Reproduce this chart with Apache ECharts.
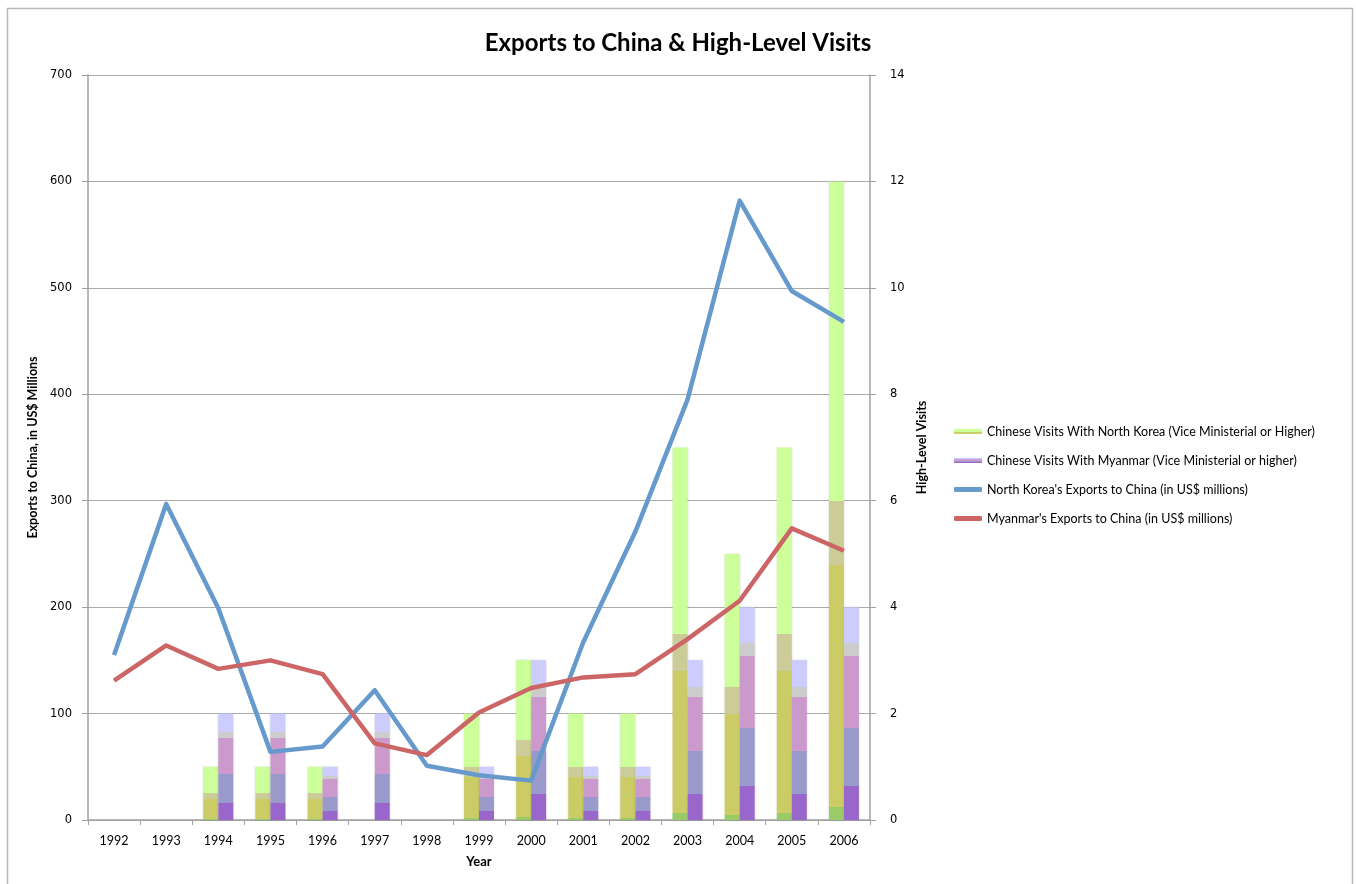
<!DOCTYPE html>
<html>
<head>
<meta charset="utf-8">
<script src="https://cdn.jsdelivr.net/npm/echarts@6/dist/echarts.min.js"></script>
<style>
  html, body { margin: 0; padding: 0; background: #fff; }
  #chart { width: 1356px; height: 884px; }
</style>
</head>
<body>
<div id="chart"></div>
<script>
const years = ["1992", "1993", "1994", "1995", "1996", "1997", "1998", "1999", "2000", "2001", "2002", "2003", "2004", "2005", "2006"];
const nkVisits = [0, 0, 1, 1, 1, 0, 0, 2, 3, 2, 2, 7, 5, 7, 12];
const myVisits = [0, 0, 2, 2, 1, 2, 0, 1, 3, 1, 1, 3, 4, 3, 4];
const nkExports = [155, 297, 199, 64, 69, 122, 51, 42, 37, 167, 271, 395, 582, 497, 468];
const myExports = [131, 164, 142, 150, 137, 72, 61, 101, 124, 134, 137, 170, 206, 274, 253];

const chart = echarts.init(document.getElementById("chart"));

// hard-stop gradient, top to bottom
function bands(list) {
  const stops = [];
  list.forEach(([from, to, color]) => {
    stops.push({ offset: from, color: color });
    stops.push({ offset: to, color: color });
  });
  return new echarts.graphic.LinearGradient(0, 0, 0, 1, stops);
}

const nkFill = bands([
  [0, 0.5, "#ccff99"],
  [0.5, 0.6, "#cccc99"],
  [0.6, 0.98, "#cccc66"],
  [0.98, 1, "#99cc66"],
]);
const myFill = bands([
  [0, 0.17, "#ccccff"],
  [0.17, 0.23, "#cccccc"],
  [0.23, 0.57, "#cc99cc"],
  [0.57, 0.84, "#9999cc"],
  [0.84, 1, "#9966cc"],
]);

const calibri = "Lato, 'Open Sans', sans-serif";
const verdana = "'DejaVu Sans', sans-serif";

chart.setOption({
  animation: false,
  backgroundColor: "#fff",

  graphic: [
    {
      type: "rect",
      shape: { x: 7.5, y: 8.5, width: 1345, height: 900 },
      style: { fill: "none", stroke: "#b8b8b8", lineWidth: 1.5 },
      silent: true,
    },
  ],

  title: {
    text: "Exports to China & High-Level Visits",
    left: "center",
    top: 26,
    textStyle: { fontFamily: calibri, fontSize: 24, fontWeight: "bold", color: "#000" },
  },

  legend: {
    orient: "vertical",
    left: 949,
    top: 420,
    itemWidth: 28,
    itemHeight: 5,
    itemGap: 16,
    textStyle: { fontFamily: calibri, fontSize: 12.5, color: "#000" },
    data: [
      { name: "Chinese Visits With North Korea (Vice Ministerial or Higher)", icon: "rect" },
      { name: "Chinese Visits With Myanmar (Vice Ministerial or higher)", icon: "rect" },
      { name: "North Korea's Exports to China (in US$ millions)", icon: "roundRect" },
      { name: "Myanmar's Exports to China (in US$ millions)", icon: "roundRect" },
    ],
  },

  grid: { left: 88, right: 486, top: 75, bottom: 64 },

  xAxis: {
    type: "category",
    data: years,
    boundaryGap: true,
    name: "Year",
    nameLocation: "middle",
    nameGap: 35,
    nameTextStyle: { fontFamily: calibri, fontSize: 13, fontWeight: "bold", color: "#000" },
    axisLine: { lineStyle: { color: "#a0a0a0", width: 1.5 } },
    axisTick: { show: true, length: 5, lineStyle: { color: "#a0a0a0" } },
    axisLabel: { fontFamily: calibri, fontSize: 12.5, color: "#000", margin: 14 },
  },

  yAxis: [
    {
      type: "value",
      min: 0,
      max: 700,
      interval: 100,
      name: "Exports to China, in US$ Millions",
      nameLocation: "middle",
      nameGap: 41,
      nameTextStyle: { fontFamily: calibri, fontSize: 12.5, fontWeight: "bold", color: "#000" },
      axisLine: { show: true, lineStyle: { color: "#a0a0a0", width: 1.5 } },
      axisTick: { show: true, length: 6, lineStyle: { color: "#a0a0a0" } },
      axisLabel: { fontFamily: verdana, fontSize: 11.5, color: "#000", margin: 16 },
      splitLine: { lineStyle: { color: "#aaaaaa", width: 1 } },
    },
    {
      type: "value",
      min: 0,
      max: 14,
      interval: 2,
      name: "High-Level Visits",
      nameLocation: "middle",
      nameGap: 44,
      nameRotate: 90,
      nameTextStyle: { fontFamily: calibri, fontSize: 12.5, fontWeight: "bold", color: "#000" },
      axisLine: { show: true, lineStyle: { color: "#a0a0a0", width: 1.5 } },
      axisTick: { show: true, length: 6, lineStyle: { color: "#a0a0a0" } },
      axisLabel: { fontFamily: verdana, fontSize: 11.5, color: "#000", margin: 20 },
      splitLine: { show: false },
    },
  ],

  series: [
    {
      name: "Chinese Visits With North Korea (Vice Ministerial or Higher)",
      type: "bar",
      yAxisIndex: 1,
      barWidth: 15,
      barGap: "0%",
      data: nkVisits,
      itemStyle: { color: nkFill, shadowBlur: 2, shadowColor: "rgba(0,0,0,0.15)" },
    },
    {
      name: "Chinese Visits With Myanmar (Vice Ministerial or higher)",
      type: "bar",
      yAxisIndex: 1,
      barWidth: 15,
      barGap: "0%",
      data: myVisits,
      itemStyle: { color: myFill, shadowBlur: 2, shadowColor: "rgba(0,0,0,0.15)" },
    },
    {
      name: "North Korea's Exports to China (in US$ millions)",
      type: "line",
      yAxisIndex: 0,
      data: nkExports,
      symbol: "none",
      z: 5,
      lineStyle: { color: "#6699cc", width: 4.5, join: "round" },
      itemStyle: { color: "#6699cc" },
    },
    {
      name: "Myanmar's Exports to China (in US$ millions)",
      type: "line",
      yAxisIndex: 0,
      data: myExports,
      symbol: "none",
      z: 5,
      lineStyle: { color: "#cc6666", width: 4.5, join: "round" },
      itemStyle: { color: "#cc6666" },
    },
  ],
});

window.addEventListener("resize", () => chart.resize());
</script>
</body>
</html>
